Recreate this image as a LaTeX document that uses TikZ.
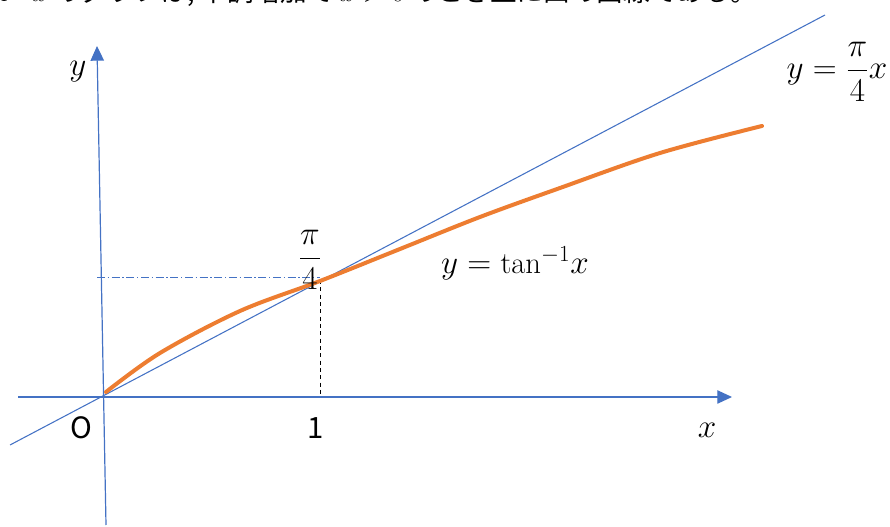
\documentclass[tikz,border=0pt]{standalone}
\usepackage{amsmath}
\usepackage{fontspec}
\newfontfamily\jpfont{Noto Sans CJK JP}
\usepackage{xcolor}
\usetikzlibrary{arrows.meta, positioning, calc}
\definecolor{axisblue}{HTML}{4472C4}
\definecolor{curveorange}{HTML}{ED7D31}
\tikzset{
    axis/.style={axisblue, line width=0.9pt, -{Triangle[length=11pt, width=10pt]}},
    guide/.style={axisblue, line width=0.8pt},
    curve/.style={curveorange, line width=3pt},
    dotline/.style={axisblue, line width=0.7pt, dash pattern=on 6pt off 2pt on 1pt off 2pt},
    dropline/.style={black, line width=0.7pt, dash pattern=on 3pt off 2.5pt},
    mathlabel/.style={font=\fontsize{23}{28}\selectfont, inner sep=0pt},
    numlabel/.style={font=\jpfont\fontsize{22}{26}\selectfont, inner sep=0pt},
}

\begin{document}
\begin{tikzpicture}[x=0.75pt, y=-0.75pt]
    \useasboundingbox (0,0) rectangle (890,527);

    % Caption line (cut off by the page edge)
    \node[font=\jpfont\fontsize{20}{24}\selectfont, inner sep=0pt, anchor=base east] (caption) at (757,2)
        {$y=\tan^{-1}\!x$ のグラフは, 単調増加で $x>0$ のとき上に凸の曲線である。};

    % Points
    \coordinate (O) at (103,397);
    \coordinate (xstart) at (18,397);
    \coordinate (xend) at (732,397);
    \coordinate (ystart) at (106,525);
    \coordinate (yend) at (97,46);
    \coordinate (lstart) at (10,445);
    \coordinate (lend) at (825,15);
    \coordinate (one) at (320,397);
    \coordinate (P) at (320,280);
    \coordinate (Py) at (97,277);

    % Axes
    \draw[axis] (xstart) -- (xend);
    \draw[axis] (ystart) -- (yend);

    % Line y = pi/4 x
    \draw[guide] (lstart) -- (lend);

    % Guide lines to (1, pi/4)
    \draw[dotline] (Py) -- (P |- Py);
    \draw[dropline] (P) -- (one);

    % Curve y = arctan x
    \draw[curve, line cap=round] plot[smooth, tension=0.55] coordinates
        {(106,392) (160,353) (240,311) (320,281) (400,249) (480,217) (560,188) (660,153) (762,126)};

    % Labels
    \node[mathlabel] (ylab) at (78,72) {$y$};
    \node[mathlabel] (xlab) at (707,430) {$x$};
    \node[numlabel] (olab) at (81,428) {O};
    \node[numlabel] (onelab) at (316,428) {1};
    \node[mathlabel] (pilab) at (310,260) {$\dfrac{\pi}{4}$};
    \node[mathlabel] (curvelab) at (515,263) {$y=\tan^{-1}\!x$};
    \node[mathlabel] (linelab) at (837,72) {$y=\dfrac{\pi}{4}x$};
\end{tikzpicture}
\end{document}
